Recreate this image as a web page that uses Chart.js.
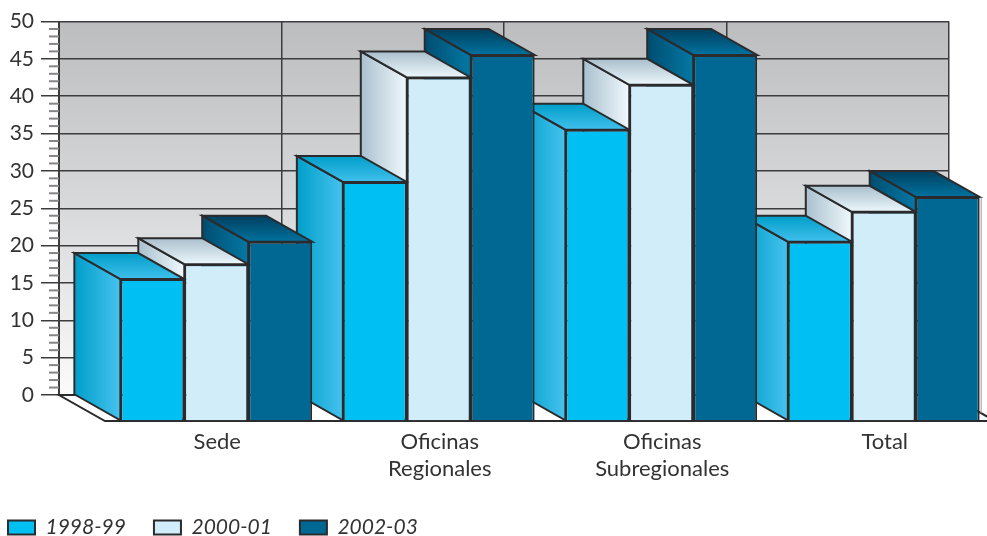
<!DOCTYPE html>
<html>
<head>
<meta charset="utf-8">
<script src="https://cdn.jsdelivr.net/npm/chart.js@4/dist/chart.umd.min.js"></script>
<style>
    html, body { margin: 0; padding: 0; background: #fff; }
    #wrap { width: 987px; height: 536px; overflow: hidden; }
</style>
</head>
<body>
<div id="wrap"><canvas id="myChart" width="987" height="536"></canvas></div>
<script>
var categories = ["Sede", ["Oficinas", "Regionales"], ["Oficinas", "Subregionales"], "Total"];
var seriesNames = ["1998-99", "2000-01", "2002-03"];
var values1998 = [19, 32, 39, 24];
var values2000 = [21, 46, 45, 28];
var values2002 = [24, 49, 49, 30];
var yMax = 50;
var yStep = 5;

// how far the front of a bar sits from the back wall
var depthX = 46;
var depthY = 26;
var edge = "#2b2b2d";

var frontColors = ["#00bff3", "#d1edfa", "#006892"];
// [far colour, near colour] of the shaded faces
var sideColors = [["#009fc9", "#46c2ee"], ["#a9c0ce", "#f0f8fd"], ["#004d70", "#0478a4"]];
var topColors = [["#009fc9", "#40bfec"], ["#a9bfcc", "#ecf7fc"], ["#003f5e", "#00729f"]];

function face(ctx, pts, fill) {
    ctx.beginPath();
    ctx.moveTo(pts[0][0], pts[0][1]);
    for (var i = 1; i < pts.length; i++) {
        ctx.lineTo(pts[i][0], pts[i][1]);
    }
    ctx.closePath();
    ctx.fillStyle = fill;
    ctx.fill();
    ctx.stroke();
}

function gradient(ctx, x0, y0, x1, y1, colors) {
    var g = ctx.createLinearGradient(x0, y0, x1, y1);
    g.addColorStop(0, colors[0]);
    g.addColorStop(1, colors[1]);
    return g;
}

var depthBars = {
    id: "depthBars",
    beforeDraw: function(chart) {
        // back wall
        var ctx = chart.ctx;
        var a = chart.chartArea;
        var g = ctx.createLinearGradient(0, a.top, 0, a.bottom);
        g.addColorStop(0, "#bcbdbf");
        g.addColorStop(0.5, "#d8d9db");
        g.addColorStop(1, "#fbfbfb");
        ctx.fillStyle = g;
        ctx.fillRect(a.left, a.top, a.right - a.left, a.bottom - a.top);
    },
    beforeDatasetsDraw: function(chart) {
        var ctx = chart.ctx;
        var a = chart.chartArea;
        var y = chart.scales.y;

        // small ticks between the labelled ones
        ctx.save();
        ctx.strokeStyle = "#858585";
        ctx.lineWidth = 2;
        for (var v = 0; v <= yMax; v++) {
            if (v % yStep === 0) continue;
            ctx.beginPath();
            ctx.moveTo(a.left - 10, y.getPixelForValue(v));
            ctx.lineTo(a.left, y.getPixelForValue(v));
            ctx.stroke();
        }

        ctx.strokeStyle = edge;
        ctx.lineWidth = 2;
        ctx.lineJoin = "miter";

        // floor
        face(ctx, [
            [a.left, a.bottom],
            [a.right, a.bottom],
            [a.right + depthX, a.bottom + depthY],
            [a.left + depthX, a.bottom + depthY]
        ], "#ffffff");

        // right to left so nearer boxes paint over the ones behind them
        for (var i = categories.length - 1; i >= 0; i--) {
            for (var d = chart.data.datasets.length - 1; d >= 0; d--) {
                var bar = chart.getDatasetMeta(d).data[i];
                var left = bar.x - bar.width / 2;
                var right = bar.x + bar.width / 2;
                face(ctx, [
                    [left, bar.y],
                    [left + depthX, bar.y + depthY],
                    [left + depthX, bar.base + depthY],
                    [left, bar.base]
                ], gradient(ctx, left, 0, left + depthX, 0, sideColors[d]));
                face(ctx, [
                    [left, bar.y],
                    [right, bar.y],
                    [right + depthX, bar.y + depthY],
                    [left + depthX, bar.y + depthY]
                ], gradient(ctx, 0, bar.y, 0, bar.y + depthY, topColors[d]));
            }
        }
        ctx.restore();

        // the library's own bars become the front faces
        ctx.save();
        ctx.translate(depthX, depthY);
    },
    afterDatasetsDraw: function(chart) {
        var ctx = chart.ctx;
        var a = chart.chartArea;
        ctx.restore();

        // thin grey shadow on the right of the last bar
        var last = chart.getDatasetMeta(chart.data.datasets.length - 1).data[categories.length - 1];
        var x = last.x + last.width / 2 + depthX + 1.5;
        ctx.save();
        ctx.strokeStyle = "#9a9a9a";
        ctx.lineWidth = 1;
        ctx.beginPath();
        ctx.moveTo(x, last.y + depthY);
        ctx.lineTo(x, a.bottom + (x - a.right) * depthY / depthX);
        ctx.stroke();
        ctx.restore();
    }
};

var allValues = [values1998, values2000, values2002];
var datasets = seriesNames.map(function(name, i) {
    return {
        label: name,
        data: allValues[i],
        backgroundColor: frontColors[i],
        borderColor: edge,
        borderWidth: 2,
        clip: 6
    };
});

var ctx = document.getElementById("myChart");
var myChart = new Chart(ctx, {
    type: "bar",
    data: { labels: categories, datasets: datasets },
    plugins: [depthBars],
    options: {
        responsive: false,
        animation: false,
        layout: { padding: { top: 21.5, right: 38, left: -20, bottom: -12 } },
        datasets: { bar: { categoryPercentage: 0.862, barPercentage: 1 } },
        plugins: {
            tooltip: { enabled: false },
            legend: {
                position: "bottom",
                align: "start",
                labels: {
                    boxWidth: 27,
                    boxHeight: 14,
                    padding: 28,
                    color: "#333",
                    font: { family: "Lato", size: 21, style: "italic" }
                }
            }
        },
        scales: {
            x: {
                afterFit: function(scale) { scale.height = 94; },
                grid: { color: "#3c3c3e", lineWidth: 1.5, drawTicks: false },
                border: { color: "#3c3c3e", width: 1.5 },
                ticks: {
                    labelOffset: depthX + 1,
                    padding: 34,
                    maxRotation: 0,
                    autoSkip: false,
                    color: "#333",
                    font: { family: "Lato", size: 22, lineHeight: 1.2 }
                }
            },
            y: {
                min: 0,
                max: yMax,
                afterFit: function(scale) { scale.width = 79; },
                grid: { color: "#3c3c3e", lineWidth: 1.5, tickLength: 18 },
                border: { color: "#3c3c3e", width: 2 },
                ticks: {
                    stepSize: yStep,
                    padding: 7,
                    color: "#333",
                    font: { family: "Lato", size: 21 }
                }
            }
        }
    }
});
</script>
</body>
</html>
